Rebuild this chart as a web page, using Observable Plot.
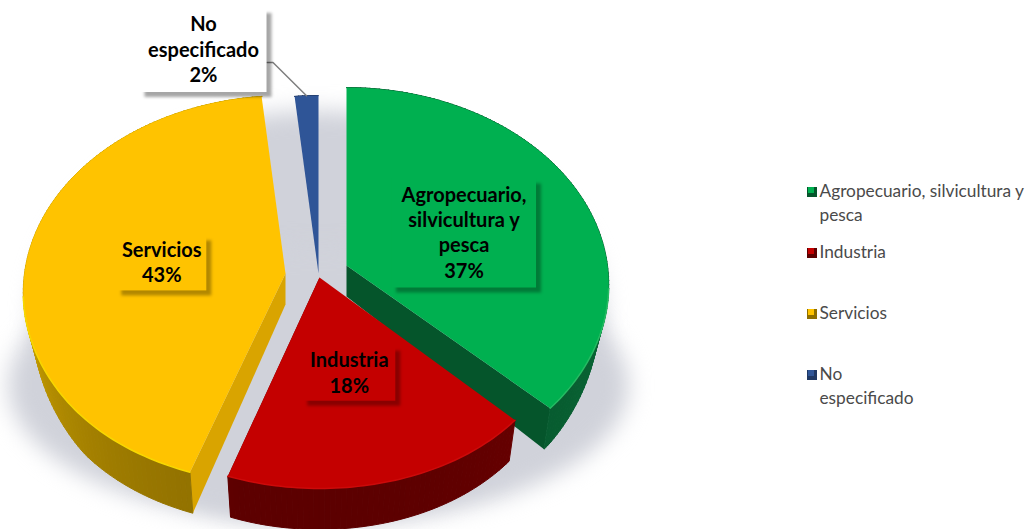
<!doctype html>
<html><head><meta charset="utf-8">
<style>html,body{margin:0;padding:0;background:#fff}svg{display:block}</style>
<script src="https://cdn.jsdelivr.net/npm/d3@7"></script>
<script src="https://cdn.jsdelivr.net/npm/@observablehq/plot@0.6"></script>
</head><body><div id="chart"></div>
<script>
const categories = ["Agropecuario, silvicultura y pesca", "Industria", "Servicios", "No especificado"];
const shares = [37, 18.4, 43, 1.6];
const sliceLabels = ["Agropecuario,\nsilvicultura y\npesca", "Industria", "Servicios", "No\nespecificado"];
const legendLabels = ["Agropecuario, silvicultura y\npesca", "Industria", "Servicios", "No\nespecificado"];

// styles
const topColors = ["#00b050", "#c40000", "#ffc300", "#2f5597"];
const rimBack = ["#0b6b39", "#7a0000", "#d6aa00", "#1f3864"];
const rimFront = ["#05552b", "#5c0000", "#8f6f00", "#1f3864"];
const edgeColors = ["#05552b", "#630000", "#d9a400", "#1f3864"];
const rimLights = ["#25bb62", "#cc0a0a", "#f7d800", "#2f5597"];
// layout
const apexes = [[346, 265], [319, 277], [285, 273], [318, 273]];
const widthScale = [1, 0.96, 1, 1];
const labelFractions = [0.5, 0.48, 0.48, null];
const labelNudges = [[0, 6], [0, 1], [0, 1], [0, 0]];
const boxSizes = [[145, 109], [93, 55], [90, 55], [127, 84]];
const outsideLabel = [203, 50];
const legendRows = [[191, 2], [252, 1], [313, 1], [374, 2]];
const R = 261, Rk = 195, D = 10.4;

function project(apex, u, v, bottom, ws = 1) {
  const f = D / (D - v);
  let X = R * u * f * ws, Y = Rk * v * f - 30 * Math.max(0, v - 0.6) ** 2;
  if (bottom) { X *= 0.97; Y += Math.min(41, 50 * Math.sqrt(Math.max(v, 0))); }
  return [apex[0] + X, apex[1] + Y];
}
let cum = 0;
const slices = shares.map((s, i) => {
  const a0 = cum / 100 * 2 * Math.PI; cum += s;
  const a1 = cum / 100 * 2 * Math.PI;
  return {i, a0, a1, mid: (a0 + a1) / 2, apex: apexes[i], ws: widthScale[i]};
});
const at = (sl, a, bottom, r = 1) => project(sl.apex, r * Math.sin(a), -r * Math.cos(a), bottom, sl.ws);
const steps = sl => { const n = Math.max(3, Math.ceil((sl.a1 - sl.a0) / 0.02));
  return d3.range(n + 1).map(k => sl.a0 + (sl.a1 - sl.a0) * k / n); };
const arc = (sl, bottom) => steps(sl).map(a => at(sl, a, bottom));
const xy = {x: d => d[0], y: d => d[1]};
const poly = (pts, fill, extra = {}) => Plot.line([...pts, pts[0]], {...xy, fill, stroke: "none", ...extra});

const marks = [];
// soft shadow under the pie
const ellipse = (cx, cy, rx, ry) => d3.range(0, 360, 2).map(t => {
  const a = t * Math.PI / 180;
  return [cx + rx * Math.sin(a), cy - ry * Math.cos(a)];
});
marks.push(poly(ellipse(318, 315, 285, 205), "#d0d2da", {imageFilter: "blur(11px)"}));
marks.push(poly(ellipse(318, 385, 310, 138), "#d0d2da", {imageFilter: "blur(11px)"}));

const apexBottom = sl => [sl.apex[0], sl.apex[1] + 31];
for (const i of [3, 0, 2, 1]) {
  const sl = slices[i];
  const visibleEdge = {0: sl.a1, 1: sl.a1, 2: sl.a0}[i];
  if (visibleEdge != null) {
    marks.push(poly([sl.apex, at(sl, visibleEdge, false), at(sl, visibleEdge, true), apexBottom(sl)], edgeColors[i]));
  }
  // outer rim, shaded step by step from the side towards the front
  const as = steps(sl);
  const shade = d3.interpolateRgb(rimBack[i], rimFront[i]);
  const quads = as.slice(1).flatMap((a, k) => {
    const b = as[k];
    const c = shade(Math.max(0, -Math.cos((a + b) / 2)));
    return [at(sl, b, false), at(sl, a, false), at(sl, a, true), at(sl, b, true), at(sl, b, false)].map(p => ({p, k, c}));
  });
  marks.push(Plot.line(quads, {x: d => d.p[0], y: d => d.p[1], z: "k", fill: "c", stroke: "c", strokeWidth: 1, strokeLinejoin: "round"}));
  marks.push(poly([sl.apex, ...arc(sl, false)], topColors[i]));
  marks.push(Plot.line(arc(sl, false).filter(p => p[1] > sl.apex[1] + 20), {...xy, stroke: rimLights[i], strokeWidth: 1.5}));
}

// labels
const labelRows = slices.map((sl, i) => {
  const c0 = labelFractions[i] == null ? outsideLabel : at(sl, sl.mid, false, labelFractions[i]);
  const c = [c0[0] + labelNudges[i][0], c0[1] + labelNudges[i][1]];
  const [w, h] = boxSizes[i];
  const name = sliceLabels[i] + "\n" + Math.round(shares[i]) + "%";
  return {i, cx: c[0], cy: c[1], x1: c[0] - w / 2, x2: c[0] + w / 2, y1: c[1] - h / 2, y2: c[1] + h / 2, name};
});
marks.push(Plot.line([[labelRows[3].x2, 62], [labelRows[3].x2 + 6, 62], at(slices[3], slices[3].mid, false)],
  {...xy, stroke: "#7f7f7f", strokeWidth: 1.5}));
labelRows.forEach(r => {
  marks.push(Plot.rect([r], {x1: d => d.x1 + 5, x2: d => d.x2 + 5, y1: d => d.y1 + 5, y2: d => d.y2 + 5,
    fill: "#000", fillOpacity: r.i === 3 ? 0.35 : 0.3, imageFilter: "blur(1.5px)"}));
  marks.push(Plot.rect([r], {x1: "x1", x2: "x2", y1: "y1", y2: "y2", fill: r.i === 3 ? "#fff" : topColors[r.i]}));
  marks.push(Plot.text([r], {x: "cx", y: "cy", text: "name", fill: "#000", fontSize: 20, fontWeight: 700, dy: -2,
    fontFamily: "Lato", lineHeight: 1.27, textAnchor: "middle"}));
});

// legend
legendLabels.forEach((t, i) => {
  const [y] = legendRows[i];
  marks.push(Plot.rect([i], {x1: () => 807, x2: () => 817, y1: () => y - 4, y2: () => y + 6, fill: rimFront[i]}));
  marks.push(Plot.rect([i], {x1: () => 808, x2: () => 814, y1: () => y - 4, y2: () => y + 2, fill: topColors[i]}));
  marks.push(Plot.text([t], {x: () => 819, y: () => y - 0.5, text: d => d, textAnchor: "start", lineAnchor: "top", dy: -10, fill: "#4a4a4a",
    fontSize: 17.3, fontFamily: "Lato", lineHeight: 1.34}));
});

document.getElementById("chart").append(Plot.plot({
  width: 1031, height: 529, margin: 0,
  x: {domain: [0, 1031], range: [0, 1031], axis: null},
  y: {domain: [0, 529], range: [0, 529], axis: null},
  color: {type: "identity"},
  style: {background: "#fff"},
  marks
}));
</script></body></html>
